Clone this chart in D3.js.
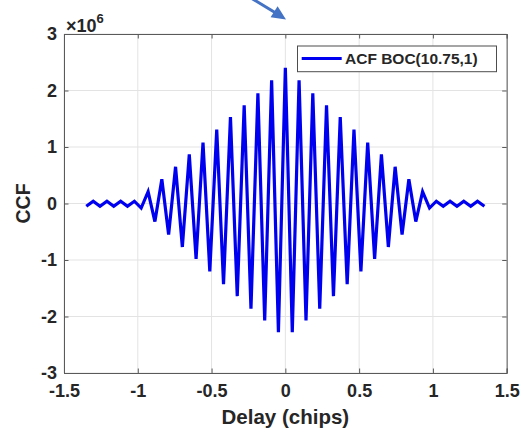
<!DOCTYPE html>
<html>
<head>
<meta charset="utf-8">
<script src="https://cdn.jsdelivr.net/npm/d3@7"></script>
<style>
  html, body { margin: 0; padding: 0; background: #ffffff; }
  svg { display: block; }
  text { font-family: "Liberation Sans", Arial, sans-serif; font-weight: bold; fill: #262626; }
</style>
</head>
<body>
<svg id="chart" width="524" height="435"></svg>
<script>
// ---- data (CCF in units of 1e6) ----
const delay = [
  -1.349, -1.302, -1.256, -1.209, -1.163, -1.116, -1.070, -1.023, -0.977, -0.930,
  -0.884, -0.837, -0.791, -0.744, -0.698, -0.651, -0.605, -0.558, -0.512, -0.465,
  -0.419, -0.372, -0.326, -0.279, -0.233, -0.186, -0.140, -0.093, -0.047, 0.000,
   0.047,  0.093,  0.140,  0.186,  0.233,  0.279,  0.326,  0.372,  0.419,  0.465,
   0.512,  0.558,  0.605,  0.651,  0.698,  0.744,  0.791,  0.837,  0.884,  0.930,
   0.977,  1.023,  1.070,  1.116,  1.163,  1.209,  1.256,  1.302,  1.349
];
const ccf = [
  -0.05,  0.04, -0.05,  0.04, -0.05,  0.04, -0.05,  0.04, -0.08,  0.21,
  -0.32,  0.43, -0.55,  0.65, -0.77,  0.87, -0.98,  1.08, -1.20,  1.31,
  -1.43,  1.53, -1.64,  1.74, -1.86,  1.95, -2.07,  2.18, -2.28,  2.40,
  -2.28,  2.18, -2.07,  1.95, -1.86,  1.74, -1.64,  1.53, -1.43,  1.31,
  -1.20,  1.08, -0.98,  0.87, -0.77,  0.65, -0.55,  0.43, -0.32,  0.21,
  -0.08,  0.04, -0.05,  0.04, -0.05,  0.04, -0.05,  0.04, -0.05
];
const xTicks = [-1.5, -1, -0.5, 0, 0.5, 1, 1.5];
const xTickLabels = ["-1.5", "-1", "-0.5", "0", "0.5", "1", "1.5"];
const yTicks = [-3, -2, -1, 0, 1, 2, 3];
const yTickLabels = ["-3", "-2", "-1", "0", "1", "2", "3"];
const exponentLabel = "6";
const seriesName = "ACF BOC(10.75,1)";
const xTitle = "Delay (chips)";
const yTitle = "CCF";

// ---- layout ----
const svg = d3.select("#chart");
const L = 64, R = 506.7, T = 34, B = 373;
const x = d3.scaleLinear().domain([-1.5, 1.5]).range([L, R]);
const y = d3.scaleLinear().domain([-3, 3]).range([B, T]);

// grid
const grid = svg.append("g");
grid.selectAll("line.gx").data(xTicks).enter().append("line")
  .attr("x1", d => x(d)).attr("x2", d => x(d)).attr("y1", T).attr("y2", B)
  .attr("stroke", "#e3e3e3").attr("stroke-width", 1);
grid.selectAll("line.gy").data(yTicks).enter().append("line")
  .attr("x1", L).attr("x2", R).attr("y1", d => y(d)).attr("y2", d => y(d))
  .attr("stroke", "#e3e3e3").attr("stroke-width", 1);

// axes (ticks inward, box on)
const tl = 4.5;
const xAxisB = d3.axisBottom(x).tickValues(xTicks).tickSize(-tl).tickFormat((d, i) => xTickLabels[i]).tickPadding(10);
const xAxisT = d3.axisTop(x).tickValues(xTicks).tickSize(-tl).tickFormat("");
const yAxisL = d3.axisLeft(y).tickValues(yTicks).tickSize(-tl).tickFormat((d, i) => yTickLabels[i]).tickPadding(7);
const yAxisR = d3.axisRight(y).tickValues(yTicks).tickSize(-tl).tickFormat("");

function styleAxis(g) {
  g.select(".domain").attr("stroke", "#5a5a5a").attr("stroke-width", 1);
  g.selectAll(".tick line").attr("stroke", "#5a5a5a");
  g.selectAll(".tick text").attr("fill", "#262626")
    .style("font-family", '"Liberation Sans", Arial, sans-serif')
    .style("font-weight", "bold").style("font-size", "18px");
}
const gxB = svg.append("g").attr("transform", `translate(0,${B})`).call(xAxisB).call(styleAxis);
gxB.selectAll(".tick text").attr("dy", "0.71em").attr("y", 11);
svg.append("g").attr("transform", `translate(0,${T})`).call(xAxisT).call(styleAxis);
svg.append("g").attr("transform", `translate(${L},0)`).call(yAxisL).call(styleAxis);
svg.append("g").attr("transform", `translate(${R},0)`).call(yAxisR).call(styleAxis);

// series
const pts = delay.map((d, i) => [d, ccf[i]]);
const line = d3.line().x(d => x(d[0])).y(d => y(d[1]));
svg.append("path").datum(pts).attr("d", line)
  .attr("fill", "none").attr("stroke", "#0000f0").attr("stroke-width", 3.2)
  .attr("stroke-linejoin", "miter");

// exponent label
const ex = svg.append("text").attr("x", 66).attr("y", 31.5).style("font-size", "18px");
ex.append("tspan").text("\u00d710");
ex.append("tspan").attr("dy", -9).style("font-size", "13px").text(exponentLabel);

// axis titles
svg.append("text").attr("x", x(0)).attr("y", 424).attr("text-anchor", "middle")
  .style("font-size", "20.5px").text(xTitle);
svg.append("text").attr("transform", `translate(30,${y(0)}) rotate(-90)`)
  .attr("text-anchor", "middle").style("font-size", "19.5px").text(yTitle);

// legend
const lg = svg.append("g");
lg.append("rect").attr("x", 297.5).attr("y", 46).attr("width", 199).attr("height", 25.7)
  .attr("fill", "#ffffff").attr("stroke", "#4d4d4d").attr("stroke-width", 1);
lg.append("line").attr("x1", 301.7).attr("x2", 341.7).attr("y1", 58.5).attr("y2", 58.5)
  .attr("stroke", "#0000f0").attr("stroke-width", 3);
lg.append("text").attr("x", 345).attr("y", 64.2).style("font-size", "15.5px").text(seriesName);

// annotation arrow (shaft + explicit head)
const arrowColor = "#4472c4";
svg.append("line").attr("x1", 251).attr("y1", -2).attr("x2", 275).attr("y2", 12.5)
  .attr("stroke", arrowColor).attr("stroke-width", 3);
svg.append("path").attr("d", "M286,19.5 L270.6,17.2 L277.6,6.2 Z").attr("fill", arrowColor);
</script>
</body>
</html>
